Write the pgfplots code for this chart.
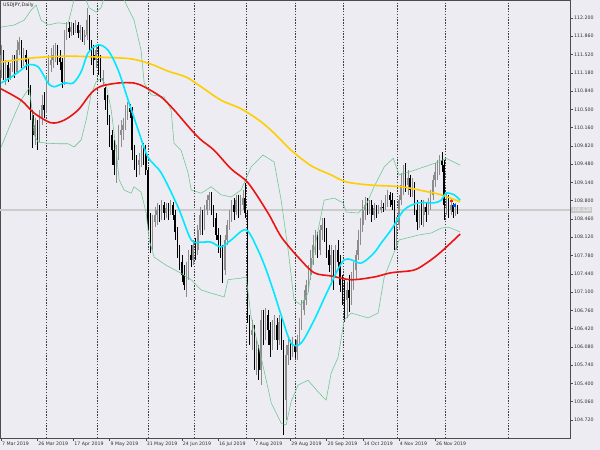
\documentclass[border=0pt]{standalone}
\usepackage{fontspec}
\setmainfont{DejaVu Sans}
\usepackage{pgfplots}
\usepackage{pgfplotstable}
\pgfplotsset{compat=1.18}
\definecolor{bg}{RGB}{236,236,242}
\definecolor{bull}{RGB}{140,140,140}
\definecolor{bbgreen}{RGB}{105,200,140}
\definecolor{maYellow}{RGB}{255,205,0}
\definecolor{maRed}{RGB}{235,20,20}
\definecolor{maCyan}{RGB}{0,232,255}
\newcommand\tf{\fontsize{4.7}{5.5}\selectfont}
\pgfplotsset{nomark/.style={only marks, mark=*, mark size=0pt, mark options={draw=none, fill=none}}}

\pgfplotstableread{
i o h l c
0 111.23 111.70 111.08 111.51
1 111.51 111.60 111.05 111.14
2 111.14 111.42 110.95 111.33
3 111.33 111.38 111.01 111.08
4 111.08 111.36 111.05 111.27
5 111.27 111.51 111.20 111.42
6 111.42 111.51 111.08 111.20
7 111.20 111.79 111.16 111.60
8 111.60 111.85 111.51 111.75
9 111.75 111.79 111.27 111.42
10 111.42 111.64 111.31 111.51
11 111.51 111.60 111.23 111.38
12 111.38 111.46 110.77 110.86
13 110.86 110.95 110.30 110.40
14 110.40 110.49 109.78 110.02
15 110.02 110.34 109.84 110.21
16 110.21 110.30 109.74 109.97
17 109.97 110.49 109.89 110.34
18 110.34 110.77 110.21 110.58
19 110.58 110.82 110.34 110.49
20 110.49 111.14 110.43 111.05
21 111.05 111.51 110.95 111.33
22 111.33 111.64 111.20 111.42
23 111.42 111.70 111.27 111.51
24 111.51 111.73 111.38 111.60
25 111.60 111.70 111.33 111.46
26 111.46 111.60 111.23 111.38
27 111.38 111.46 110.90 111.01
28 111.01 111.98 110.95 111.88
29 111.88 112.13 111.79 112.01
30 112.01 112.13 111.83 111.94
31 111.94 112.13 111.87 112.03
32 112.03 112.11 111.88 111.98
33 111.98 112.16 111.92 112.07
34 112.07 112.13 111.83 111.92
35 111.92 112.07 111.79 111.98
36 111.98 112.03 111.75 111.85
37 111.85 111.98 111.70 111.88
38 111.88 112.39 111.79 112.16
39 112.16 112.26 111.60 111.70
40 111.70 111.79 111.33 111.51
41 111.51 111.70 111.14 111.42
42 111.42 111.70 111.27 111.60
43 111.60 111.70 111.14 111.46
44 111.46 111.51 111.01 111.05
45 111.05 111.23 110.95 111.08
46 110.90 110.92 110.49 110.67
47 110.67 110.77 110.21 110.30
48 110.30 110.40 109.80 110.02
49 110.02 110.12 109.46 109.74
50 109.74 109.93 109.28 109.46
51 109.46 109.84 109.13 109.74
52 109.74 110.21 109.56 110.02
53 110.02 110.30 109.80 110.12
54 110.12 110.34 109.93 110.21
55 110.21 110.58 110.12 110.49
56 110.49 110.64 110.30 110.53
57 110.53 110.60 110.34 110.45
58 110.45 110.54 109.56 109.74
59 109.74 109.84 109.37 109.56
60 109.56 109.65 109.24 109.46
61 109.46 109.69 109.28 109.56
62 109.56 109.84 109.43 109.74
63 109.74 109.87 109.46 109.65
64 109.65 109.84 109.28 109.37
65 109.37 109.43 108.26 108.35
66 108.35 108.57 107.83 108.07
67 108.07 108.54 107.88 108.40
68 108.40 108.68 108.31 108.54
69 108.54 108.76 108.35 108.63
70 108.63 108.72 108.40 108.59
71 108.59 108.81 108.44 108.72
72 108.72 108.78 108.44 108.57
73 108.57 108.76 108.48 108.66
74 108.66 108.76 108.44 108.63
75 108.63 108.81 108.54 108.72
76 108.72 108.78 108.44 108.54
77 108.54 108.63 108.07 108.22
78 108.22 108.31 107.73 107.88
79 107.88 107.98 107.51 107.66
80 107.66 107.79 107.29 107.42
81 107.42 107.60 107.14 107.23
82 107.23 107.66 107.01 107.51
83 107.51 107.88 107.33 107.79
84 107.79 107.98 107.57 107.70
85 107.70 108.07 107.60 107.98
86 107.98 108.11 107.70 107.88
87 107.88 108.35 107.79 108.26
88 108.26 108.68 108.16 108.54
89 108.54 108.63 108.16 108.35
90 108.35 108.72 108.26 108.63
91 108.63 108.91 108.54 108.81
92 108.81 108.96 108.63 108.91
93 108.91 108.96 108.54 108.63
94 108.63 108.72 108.31 108.48
95 108.48 108.57 108.07 108.16
96 108.16 108.29 107.83 108.07
97 108.07 108.16 107.73 107.88
98 107.88 107.98 107.27 107.51
99 107.51 108.16 107.42 108.07
100 108.07 108.44 107.98 108.35
101 108.35 108.63 108.26 108.54
102 108.54 108.81 108.40 108.72
103 108.72 108.85 108.44 108.59
104 108.59 108.91 108.54 108.81
105 108.81 108.91 108.48 108.63
106 108.63 108.91 108.54 108.72
107 108.72 109.00 108.63 108.85
108 108.85 109.13 108.48 108.57
109 108.57 108.63 106.53 106.58
110 106.58 106.67 106.12 106.30
111 106.30 106.58 106.02 106.39
112 106.39 106.49 105.65 105.84
113 105.84 106.21 105.56 106.02
114 106.02 106.12 105.46 105.65
115 105.65 106.77 105.37 106.58
116 106.58 106.77 106.12 106.30
117 106.30 106.80 106.21 106.67
118 106.67 106.77 106.12 106.39
119 106.39 106.54 105.89 106.12
120 106.12 106.58 106.02 106.39
121 106.39 106.67 106.21 106.49
122 106.49 106.62 106.02 106.21
123 106.21 106.67 106.12 106.54
124 106.54 106.62 106.02 106.12
125 106.12 106.21 104.44 105.09
126 105.09 106.12 104.72 105.93
127 105.93 106.27 105.74 106.12
128 106.12 106.21 105.84 106.02
129 106.02 106.27 105.89 106.12
130 106.12 106.21 105.87 105.99
131 105.99 106.30 105.84 106.21
132 106.21 106.62 106.12 106.49
133 106.49 106.95 106.39 106.77
134 106.77 107.14 106.67 106.95
135 106.95 107.33 106.86 107.23
136 107.23 107.60 107.10 107.42
137 107.42 107.88 107.33 107.73
138 107.73 108.16 107.60 107.98
139 107.98 108.26 107.79 108.07
140 108.07 108.22 107.73 107.88
141 107.88 108.35 107.79 108.26
142 108.26 108.48 108.07 108.35
143 108.35 108.48 108.03 108.16
144 108.16 108.29 107.73 107.88
145 107.88 107.98 107.47 107.60
146 107.60 107.98 107.23 107.79
147 107.79 107.88 107.14 107.55
148 107.55 107.98 107.42 107.88
149 107.88 108.07 107.55 107.66
150 107.66 107.79 107.10 107.23
151 107.23 107.42 106.86 107.05
152 107.05 107.33 106.54 106.95
153 106.95 107.29 106.62 107.14
154 107.14 107.42 106.73 106.99
155 106.99 107.47 106.86 107.33
156 107.33 107.66 107.14 107.51
157 107.51 107.88 107.33 107.79
158 107.79 108.26 107.70 108.07
159 108.07 108.48 107.98 108.35
160 108.35 108.81 108.22 108.63
161 108.63 108.87 108.44 108.72
162 108.72 108.85 108.54 108.63
163 108.63 108.81 108.55 108.72
164 108.72 108.81 108.40 108.54
165 108.54 108.76 108.44 108.66
166 108.66 108.72 108.48 108.59
167 108.59 108.72 108.55 108.63
168 108.63 108.81 108.57 108.68
169 108.68 108.76 108.59 108.66
170 108.66 108.91 108.63 108.81
171 108.81 109.00 108.68 108.91
172 108.91 108.96 108.68 108.81
173 108.81 108.94 108.63 108.72
174 108.72 108.81 107.88 107.98
175 107.98 108.50 107.88 108.35
176 108.35 108.91 108.26 108.81
177 108.81 109.32 108.72 109.09
178 109.09 109.46 108.91 109.28
179 109.28 109.50 108.96 109.09
180 109.09 109.37 108.91 109.22
181 109.22 109.28 108.87 109.00
182 109.00 109.22 108.87 109.09
183 109.09 109.15 108.54 108.63
184 108.63 108.81 108.26 108.40
185 108.40 108.72 108.29 108.63
186 108.63 108.81 108.35 108.54
187 108.54 108.81 108.31 108.68
188 108.68 108.78 108.40 108.59
189 108.59 108.85 108.54 108.72
190 108.72 109.00 108.63 108.91
191 108.91 109.28 108.81 109.19
192 109.19 109.50 109.06 109.33
193 109.33 109.56 109.19 109.41
194 109.41 109.65 109.28 109.56
195 109.56 109.71 109.33 109.46
196 109.46 109.56 108.44 108.72
197 108.72 108.96 108.54 108.81
198 108.81 108.91 108.48 108.63
199 108.63 108.85 108.54 108.72
200 108.72 108.76 108.48 108.59
201 108.59 108.76 108.52 108.66
202 108.66 108.72 108.55 108.63
}\candles

\pgfplotstableread{
x y
0 111.38
14.6 111.46
29.6 111.49
44.2 111.47
57.5 111.44
66.4 111.34
73.9 111.21
81.9 111.10
88.5 110.92
97.3 110.67
106.2 110.51
115.0 110.27
121.7 110.02
128.3 109.74
137.2 109.45
146.0 109.28
152.7 109.15
163.7 109.09
177.0 109.06
187.2 108.98
194.7 108.91
203.1 108.78
}\mayellow

\pgfplotstableread{
x y
0 110.88
8.8 110.67
14.6 110.43
22.1 110.25
27.9 110.30
34.1 110.49
39.8 110.80
44.2 110.93
51.8 110.99
58.8 110.99
63.3 110.92
70.8 110.73
76.5 110.49
84.1 110.12
88.5 109.93
94.2 109.74
101.8 109.39
109.3 109.13
118.1 108.57
123.9 108.13
131.4 107.75
138.5 107.46
146.0 107.40
154.9 107.33
165.0 107.38
172.6 107.46
182.7 107.51
188.9 107.66
194.7 107.85
203.1 108.18
}\mared

\pgfplotstableread{
x y
0 110.99
4.4 111.10
8.8 111.23
11.9 111.33
16.4 111.29
20.8 110.99
23.5 110.92
27.9 110.99
31.9 110.99
35.4 111.20
38.5 111.55
42.9 111.70
47.3 111.60
51.8 111.23
56.2 110.67
60.6 110.12
65.0 109.61
70.8 109.32
78.3 108.68
84.1 108.07
88.5 108.03
92.9 108.03
97.3 107.94
101.8 108.07
108.4 108.26
113.7 107.88
117.3 107.51
120.8 107.08
123.9 106.67
128.3 106.15
132.7 106.15
138.5 106.58
144.7 107.14
151.8 107.70
159.3 107.64
165.0 107.83
168.1 108.01
172.6 108.26
178.3 108.63
184.5 108.76
191.6 108.76
194.7 108.81
196.9 108.94
200.4 108.91
203.1 108.81
}\macyan

\pgfplotstableread{
x y
0 112.03
5.8 112.07
10.2 112.16
13.3 112.35
15.5 112.44
17.7 112.16
20.8 112.07
25.2 112.11
29.6 112.09
31.9 112.48
33.2 112.72
36.7 112.63
38.9 112.39
42.0 112.31
44.2 112.39
46.0 112.63
50.9 112.91
54.4 112.535
58.8 112.16
61.9 111.60
63.3 110.99
66.4 110.77
72.1 110.73
75.2 110.49
76.5 109.87
79.6 109.74
82.7 109.32
84.1 109.00
88.5 108.94
92.9 109.06
97.3 108.91
101.8 108.87
106.2 109.00
110.6 109.43
115.9 109.65
120.8 109.52
123.9 108.81
127.0 107.88
129.6 106.95
132.7 106.86
135.8 107.08
138.5 107.88
142.9 108.81
147.3 108.85
151.3 108.76
152.7 108.59
158.0 108.57
161.5 108.72
165.0 109.06
169.5 109.43
173.5 109.59
176.1 109.28
180.1 109.33
185.8 109.41
193.4 109.52
196.9 109.59
203.1 109.46
}\bbup

\pgfplotstableread{
x y
0 109.80
4.4 110.25
8.8 110.67
12.4 110.90
13.7 110.49
14.6 110.02
16.4 109.89
20.8 109.87
25.2 109.86
29.6 109.86
32.3 109.80
35.4 109.93
37.6 110.30
39.8 110.77
42.0 111.01
44.2 111.08
46.5 110.95
48.7 110.49
50.9 109.74
52.2 109.19
54.4 109.00
57.5 108.94
58.8 109.06
61.9 108.96
64.2 108.57
65.5 108.07
67.7 107.75
73.0 107.60
79.6 107.45
84.1 107.33
88.5 107.14
92.9 107.08
98.7 107.01
100.4 107.33
106.2 107.36
108.4 107.38
110.6 106.64
115.0 105.89
119.5 105.04
123.9 104.66
126.1 104.63
128.3 105.06
131.4 105.37
135.8 105.46
140.3 105.24
143.8 105.09
146.0 105.59
149.1 105.89
151.8 106.58
154.9 106.71
162.4 106.62
166.8 106.71
169.5 107.38
176.1 108.07
184.5 108.16
190.3 108.20
194.7 108.29
197.8 108.31
203.1 108.22
}\bblow

\begin{document}
\begin{tikzpicture}
\fill[bg] (0pt,-12pt) rectangle (600pt,438pt);
\useasboundingbox (0pt,-12pt) rectangle (600pt,438pt);
\begin{axis}[
  at={(0pt,0pt)}, anchor=south west,
  scale only axis, width=570pt, height=438pt,
  xmin=-0.5, xmax=251.7, ymin=104.385, ymax=112.535,
  axis background/.style={fill=bg},
  axis line style={draw=black!70, line width=0.6pt},
  tick style={black!70, line width=0.5pt},
  tick align=outside, major tick length=3pt,
  xtick pos=bottom, ytick pos=right, yticklabel pos=right,
  xtick={0,16,32,48,64,80,96,112,128,144,160,176,192},
  xticklabels={7 Mar 2019,26 Mar 2019,17 Apr 2019,9 May 2019,31 May 2019,24 Jun 2019,16 Jul 2019,7 Aug 2019,29 Aug 2019,20 Sep 2019,14 Oct 2019,4 Nov 2019,26 Nov 2019},
  xticklabel style={anchor=north west, inner sep=0pt, xshift=0.8pt, yshift=-0.5pt, font=\tf, text=black!80},
  ytick={104.72,105.06,105.40,105.74,106.08,106.42,106.76,107.10,107.44,107.78,108.12,108.46,108.80,109.14,109.48,109.82,110.16,110.50,110.84,111.18,111.52,111.86,112.20},
  scaled y ticks=false,
  yticklabel={\pgfmathprintnumber[fixed,fixed zerofill,precision=3,assume math mode=true]{\tick}},
  yticklabel style={anchor=west, inner sep=0pt, xshift=1pt, font=\tf, text=black!80},
  clip=true,
]
\pgfplotsinvokeforeach{19.9,42.4,65,85.3,108.3,130,151.3,175.2,196.4,224.3}{
  \draw[black!75, dash pattern=on 1.4pt off 1.4pt, line width=0.45pt] (axis cs:#1,104.385) -- (axis cs:#1,112.535);
}
\addplot[color=black!20, line width=1.3pt] coordinates {(-0.5,108.628) (251.7,108.628)};

% wicks
\addplot[nomark, restrict expr to domain={\thisrow{c}-\thisrow{o}}{0:100},
  error bars/.cd, y dir=minus, y explicit, error mark=none, error bar style={draw=bull, line width=0.6pt}]
  table[x=i, y=h, y error expr=\thisrow{h}-\thisrow{l}] {\candles};
\addplot[nomark, restrict expr to domain={\thisrow{c}-\thisrow{o}}{-100:-0.0001},
  error bars/.cd, y dir=minus, y explicit, error mark=none, error bar style={draw=black, line width=0.6pt}]
  table[x=i, y=h, y error expr=\thisrow{h}-\thisrow{l}] {\candles};
% bodies
\addplot[nomark, restrict expr to domain={\thisrow{c}-\thisrow{o}}{0:100},
  error bars/.cd, y dir=minus, y explicit, error mark=none, error bar style={draw=bull, line width=1.5pt}]
  table[x=i, y=c, y error expr=\thisrow{c}-\thisrow{o}] {\candles};
\addplot[nomark, restrict expr to domain={\thisrow{c}-\thisrow{o}}{-100:-0.0001},
  error bars/.cd, y dir=minus, y explicit, error mark=none, error bar style={draw=black, line width=1.5pt}]
  table[x=i, y=o, y error expr=\thisrow{o}-\thisrow{c}] {\candles};

\addplot[bbgreen, line width=0.55pt] table[x=x,y=y] {\bbup};
\addplot[bbgreen, line width=0.55pt] table[x=x,y=y] {\bblow};
\addplot[maYellow, line width=1.6pt, smooth] table[x=x,y=y] {\mayellow};
\addplot[maRed, line width=1.6pt, smooth] table[x=x,y=y] {\mared};
\addplot[maCyan, line width=1.6pt, smooth] table[x=x,y=y] {\macyan};
\addplot[only marks, mark=square*, mark size=0.9pt, color=red!75!orange] coordinates {(199.1,108.80)};
\addplot[only marks, mark=square*, mark size=0.9pt, color=blue!70!cyan] coordinates {(200.5,108.72)};

\node[anchor=north west, inner sep=0pt, font=\tf, text=black!85] at (rel axis cs:0,1) [xshift=3pt, yshift=-3pt] {USDJPY,Daily};
\coordinate (pl) at (axis cs:251.7,108.628);
\end{axis}
\node[anchor=west, fill=black!22, text=white, inner sep=0.8pt, font=\tf] at ([xshift=0.8pt]pl) {108.628};
\end{tikzpicture}
\end{document}
